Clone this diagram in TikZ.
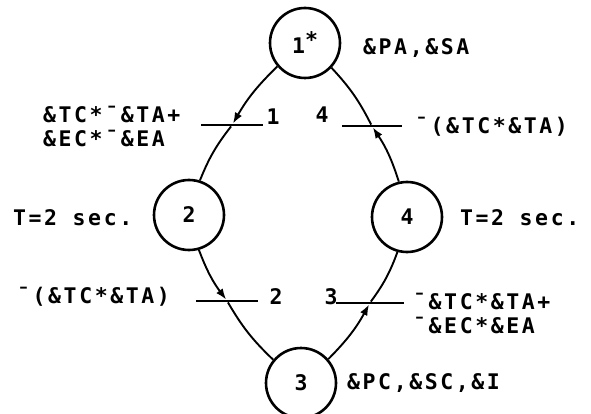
\documentclass[tikz,border=0pt]{standalone}
\usepackage{fontspec}
\newfontfamily\lpfont[LetterSpace=12]{DejaVu Sans Mono}
\usetikzlibrary{arrows.meta}

\tikzset{
  place/.style={draw, circle, line width=2.6pt, minimum size=70pt, inner sep=0pt},
  trans/.style={fill=black, inner sep=0pt, minimum height=2.4pt, minimum width=#1},
  trans/.default=62pt,
  arc/.style={line width=1.9pt},
  fire/.style={arc, -{Latex[length=11pt,width=8pt]}},
}

\begin{document}
\begin{tikzpicture}[x=1pt, y=-1pt,
    every node/.style={font=\lpfont\bfseries\fontsize{21.5}{24}\selectfont}]
  \useasboundingbox (0,0) rectangle (591,414);
  % places
  \foreach \name/\x/\y/\txt in {
    p1/305/43/{1\raisebox{6pt}{*}},
    p2/189/215/2,
    p3/301/383/3,
    p4/407/217/4}
    \node[place] (\name) at (\x,\y) {\txt};
  % transitions
  \foreach \name/\x/\y/\w in {
    t1/232/125/62,
    t2/227/301/62,
    t3/370/303/68,
    t4/372/126/60}
    \node[trans=\w pt] (\name) at (\x,\y) {};
  \foreach \name/\x/\y/\txt in {
    n1/273/117/1,
    n2/276/297/2,
    n3/331/297/3,
    n4/322/115/4}
    \node[inner sep=0pt] (\name) at (\x,\y) {\txt};
  % arcs
  \draw[fire] (p1) to[bend right=8] (t1);
  \draw[arc] (t1) to[bend right=8] (p2);
  \draw[fire] (p2) to[bend right=8] (t2);
  \draw[arc] (t2) to[bend right=8] (p3);
  \draw[fire] (p3) to[bend right=8] (t3);
  \draw[arc] (t3) to[bend right=8] (p4);
  \draw[fire] (p4) to[bend right=8] (t4);
  \draw[arc] (t4) to[bend right=8] (p1);
  % conditions and actions
  \node[anchor=west, inner sep=0pt] (a1) at (363,48) {\&PA,\&SA};
  \node[anchor=west, inner sep=0pt, align=left] (c1) at (43,126) {\&TC*¯\&TA+\\\&EC*¯\&EA};
  \node[anchor=west, inner sep=0pt] (c4) at (415,127) {¯(\&TC*\&TA)};
  \node[anchor=west, inner sep=0pt] (d2) at (13,218) {T=2 sec.};
  \node[anchor=west, inner sep=0pt] (d4) at (460,218) {T=2 sec.};
  \node[anchor=west, inner sep=0pt] (c2) at (17,297) {¯(\&TC*\&TA)};
  \node[anchor=west, inner sep=0pt, align=left] (c3) at (413,313) {¯\&TC*\&TA+\\¯\&EC*\&EA};
  \node[anchor=west, inner sep=0pt] (a3) at (347,383) {\&PC,\&SC,\&I};
\end{tikzpicture}
\end{document}
